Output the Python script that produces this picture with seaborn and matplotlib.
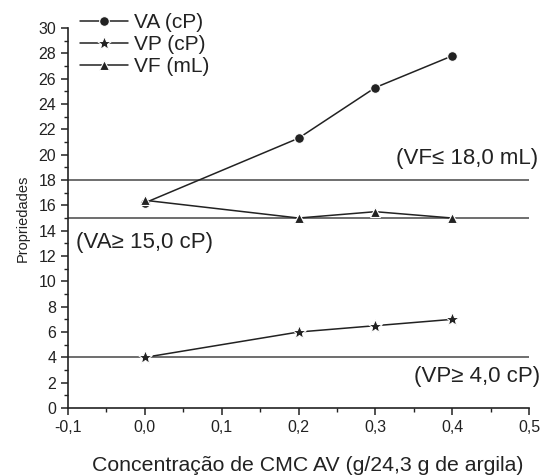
import numpy as np
import pandas as pd
import matplotlib
matplotlib.use('Agg')
import matplotlib.pyplot as plt
import seaborn as sns
from matplotlib.ticker import MultipleLocator, FuncFormatter

# dados
conc = [0.0, 0.2, 0.3, 0.4]
va = [16.2, 21.3, 25.3, 27.8]
vp = [4.0, 6.0, 6.5, 7.0]
vf = [16.4, 15.0, 15.5, 15.0]
limites = [18.0, 15.0, 4.0]
series_names = ['VA (cP)', 'VP (cP)', 'VF (mL)']

sns.set_style('ticks')
plt.rcParams['font.family'] = ['Liberation Sans', 'DejaVu Sans']

df = pd.DataFrame({
    'conc': conc * 3,
    'valor': va + vp + vf,
    'serie': [series_names[0]] * 4 + [series_names[1]] * 4 + [series_names[2]] * 4,
})

fig = plt.figure(figsize=(5.42, 4.75), dpi=100)
ax = fig.add_axes([0.1255, 0.141, 0.8505, 0.800])

for y in limites:
    ax.axhline(y, color='#555555', lw=1.2, zorder=1)

markers = {'VA (cP)': 'o', 'VP (cP)': '*', 'VF (mL)': '^'}
sizes = {'VA (cP)': 7, 'VP (cP)': 10, 'VF (mL)': 7}
for name in series_names:
    sub = df[df.serie == name]
    sns.lineplot(data=sub, x='conc', y='valor', ax=ax, color='#222222', lw=1.1,
                 marker=markers[name], markersize=sizes[name],
                 markeredgecolor='white', markeredgewidth=0.8,
                 label=name, zorder=3)

ax.set_xlim(-0.1, 0.5)
ax.set_ylim(0, 30)
ax.xaxis.set_major_locator(MultipleLocator(0.1))
ax.xaxis.set_minor_locator(MultipleLocator(0.05))
ax.yaxis.set_major_locator(MultipleLocator(2))
ax.yaxis.set_minor_locator(MultipleLocator(1))
ax.xaxis.set_major_formatter(FuncFormatter(lambda v, p: f'{v:.1f}'.replace('.', ',')))
ax.tick_params(axis='both', which='major', direction='out', length=5, width=1.1,
               labelsize=11.5, colors='#222222')
ax.tick_params(axis='both', which='minor', direction='out', length=3, width=1.0, colors='#222222')
for s in ['left', 'bottom']:
    ax.spines[s].set_linewidth(1.2)
    ax.spines[s].set_color('#222222')
sns.despine(ax=ax)

ax.set_xlabel('Concentração de CMC AV (g/24,3 g de argila)', fontsize=15.3, color='#222222')
ax.xaxis.set_label_coords(0.52, -0.125)
ax.set_ylabel('Propriedades', fontsize=10.5, labelpad=6, color='#222222')

ax.text(0.512, 19.7, '(VF≤ 18,0 mL)', fontsize=16, ha='right', va='center', color='#222222')
ax.text(-0.09, 13.1, '(VA≥ 15,0 cP)', fontsize=16, ha='left', va='center', color='#222222')
ax.text(0.515, 2.45, '(VP≥ 4,0 cP)', fontsize=16, ha='right', va='center', color='#222222')

leg = ax.legend(loc='upper left', bbox_to_anchor=(0.133, 0.99), bbox_transform=fig.transFigure,
                frameon=False, fontsize=15, handlelength=2.3, handletextpad=0.25,
                labelspacing=0.15, borderaxespad=0)
for t in leg.get_texts():
    t.set_color('#222222')

fig.savefig('out.png', dpi=100)
